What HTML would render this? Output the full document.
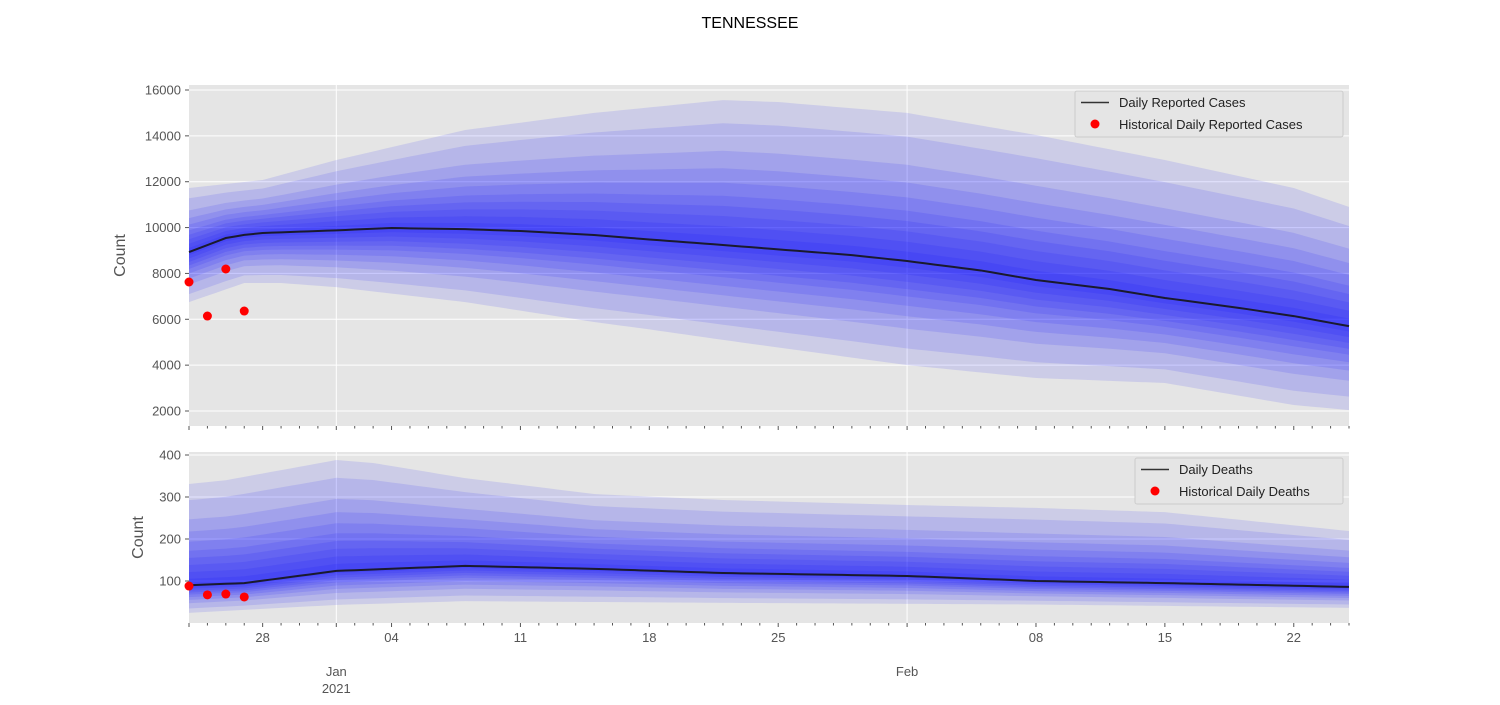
<!DOCTYPE html>
<html><head><meta charset="utf-8">
<style>
body{margin:0;background:#fff;}
svg text{font-family:"Liberation Sans","DejaVu Sans",sans-serif;}
</style></head>
<body>
<svg id="chart" width="1500" height="700" xmlns="http://www.w3.org/2000/svg">
<text x="750" y="28" text-anchor="middle" font-size="16" fill="#000">TENNESSEE</text>
</svg>
<script>
// ---- data (day index from Dec 24 2020) ----
const caseDays   = [0,2,3,4,8,11,15,18,22,25,29,32,36,39,43,46,50,53,57,60,63];
const caseMedian = [8934,9545,9680,9763,9880,9980,9930,9850,9675,9480,9240,9050,8800,8540,8130,7713,7320,6930,6500,6140,5700];
const caseUpDays = [0,4,8,15,22,29,32,39,46,53,60,63];
const caseUpper  = [11725,12075,12946,14255,15000,15560,15476,15000,14040,12946,11725,10900];
const caseLoDays = [0,3,5,8,15,22,25,29,39,46,53,60,63];
const caseLower  = [6750,7580,7580,7400,6750,5880,5560,5100,4000,3440,3220,2260,2040];
const caseHistDays = [0,1,2,3];
const caseHist     = [7626,6143,8193,6361];

const deathDays   = [0,3,8,15,22,29,39,46,53,63];
const deathMedian = [90,95,124,136,129,119,112,100,95,86];
const deathUpDays = [0,2,5,8,10,15,18,22,29,39,46,53,63];
const deathUpper  = [331,340,364,388,381,345,329,307,293,281,274,264,219];
const deathLoDays = [0,8,15,29,46,63];
const deathLower  = [24,43,52,48,44,36];
const deathHistDays = [0,1,2,3];
const deathHist     = [88,67,69,62];

const yTicksCases  = [2000,4000,6000,8000,10000,12000,14000,16000];
const yTicksDeaths = [100,200,300,400];
const xTickDays    = [4,11,18,25,32,46,53,60];
const xTickLabels  = ['28','04','11','18','25','08','15','22'];
const monthDays    = [8,39];
const monthLabels  = [['Jan','2021'],['Feb']];
const bandFractions = [1,0.84,0.65,0.53,0.43,0.34,0.27,0.2,0.13,0.064];

// ---- layout ----
const X0=189, X1=1349, NDAYS=63;
const xs = d => X0 + d*(X1-X0)/NDAYS;
const svg=document.getElementById('chart');
const NS='http://www.w3.org/2000/svg';
function mk(tag,attrs,parent){const e=document.createElementNS(NS,tag);for(const k in attrs)e.setAttribute(k,attrs[k]);(parent||svg).appendChild(e);return e;}
function interp(days,vals,d){
  if(d<=days[0])return vals[0];
  for(let i=1;i<days.length;i++){if(d<=days[i]){const t=(d-days[i-1])/(days[i]-days[i-1]);return vals[i-1]+t*(vals[i]-vals[i-1]);}}
  return vals[vals.length-1];
}

function panel(cfg){
  const g=mk('g',{});
  
  
  const ys=v=>cfg.py0-(v-cfg.v0)*cfg.k;
  const bg=mk('rect',{x:X0,y:cfg.top,width:X1-X0,height:cfg.bot-cfg.top,fill:'#e5e5e5'},g);
  
  
  // grid
  cfg.yt.forEach(v=>{
    const l=mk('line',{x1:X0,x2:X1,y1:ys(v),y2:ys(v),stroke:'#fff','stroke-width':1},g);
    
    
    const t=mk('line',{x1:X0-4,x2:X0,y1:ys(v),y2:ys(v),stroke:'#555'},g);
    
    
    const tx=mk('text',{x:X0-8,y:ys(v)+4.5,'text-anchor':'end','font-size':13,fill:'#555'},g);
    tx.textContent=v;
    
    
  });
  monthDays.forEach(d=>{
    const l=mk('line',{x1:xs(d),x2:xs(d),y1:cfg.top,y2:cfg.bot,stroke:'#fff','stroke-width':1},g);
    
    
  });
  // bands
  const allD=[];for(let d=0;d<=NDAYS;d+=0.5)allD.push(d);
  bandFractions.forEach(f=>{
    const up=allD.map(d=>{const m=interp(cfg.md,cfg.m,d);return [xs(d),ys(m+f*(interp(cfg.ud,cfg.u,d)-m))];});
    const lo=allD.map(d=>{const m=interp(cfg.md,cfg.m,d);return [xs(d),ys(m-f*(m-interp(cfg.ld,cfg.l,d)))];}).reverse();
    const p=mk('polygon',{points:up.concat(lo).map(p=>p.join(',')).join(' '),fill:'#0000ff','fill-opacity':0.105},g);
    
    
  });
  // median
  const ml=mk('polyline',{points:allD.map(d=>xs(d)+','+ys(interp(cfg.md,cfg.m,d))).join(' '),fill:'none',stroke:'#1a1a2e','stroke-width':2},g);
  
  
  cfg.hd.forEach((d,i)=>{
    const c=mk('circle',{cx:xs(d),cy:ys(cfg.h[i]),r:4.5,fill:'#ff0000'},g);
    
    
  });
  // x ticks
  for(let d=0;d<=NDAYS;d++){
    const major=xTickDays.includes(d)||monthDays.includes(d)||d===0;
    const t=mk('line',{x1:xs(d),x2:xs(d),y1:cfg.bot,y2:cfg.bot+(major?4:2.5),stroke:'#555'},g);
    
    
  }
  // y label
  const yl=mk('text',{x:0,y:0,transform:`translate(${cfg.ylx},${(cfg.top+cfg.bot)/2}) rotate(-90)`,'text-anchor':'middle','font-size':16,fill:'#555'},g);
  yl.textContent='Count';
  
  
  // legend
  const lg=mk('g',{},g);
  
  
  const lx=cfg.lx, ly=cfg.top+6;
  mk('rect',{x:lx,y:ly,width:X1-6-lx,height:46,fill:'#e5e5e5',stroke:'#ccc','stroke-width':1,rx:2},lg);
  mk('line',{x1:lx+6,x2:lx+34,y1:ly+11.5,y2:ly+11.5,stroke:'#333','stroke-width':1.5},lg);
  const t1=mk('text',{x:lx+44,y:ly+16,'font-size':13,fill:'#222'},lg);t1.textContent=cfg.l1;
  
  
  mk('circle',{cx:lx+20,cy:ly+33,r:4.5,fill:'#ff0000'},lg);
  const t2=mk('text',{x:lx+44,y:ly+38,'font-size':13,fill:'#222'},lg);t2.textContent=cfg.l2;
  
  
}

panel({name:'cases-panel',top:85,bot:426,py0:411,v0:2000,k:321/14000,yt:yTicksCases,
  md:caseDays,m:caseMedian,ud:caseUpDays,u:caseUpper,ld:caseLoDays,l:caseLower,hd:caseHistDays,h:caseHist,
  ylx:125,lx:1075,l1:'Daily Reported Cases',l2:'Historical Daily Reported Cases'});
panel({name:'deaths-panel',top:452,bot:623,py0:623,v0:0,k:0.42,yt:yTicksDeaths,
  md:deathDays,m:deathMedian,ud:deathUpDays,u:deathUpper,ld:deathLoDays,l:deathLower,hd:deathHistDays,h:deathHist,
  ylx:143,lx:1135,l1:'Daily Deaths',l2:'Historical Daily Deaths'});

xTickDays.forEach((d,i)=>{
  const t=mk('text',{x:xs(d),y:642,'text-anchor':'middle','font-size':13,fill:'#555'});
  t.textContent=xTickLabels[i];
  
  
});
monthDays.forEach((d,i)=>{
  monthLabels[i].forEach((s,j)=>{
    const t=mk('text',{x:xs(d),y:676+j*17,'text-anchor':'middle','font-size':13,fill:'#555'});
    t.textContent=s;
    
    
  });
});
</script>
</body></html>
